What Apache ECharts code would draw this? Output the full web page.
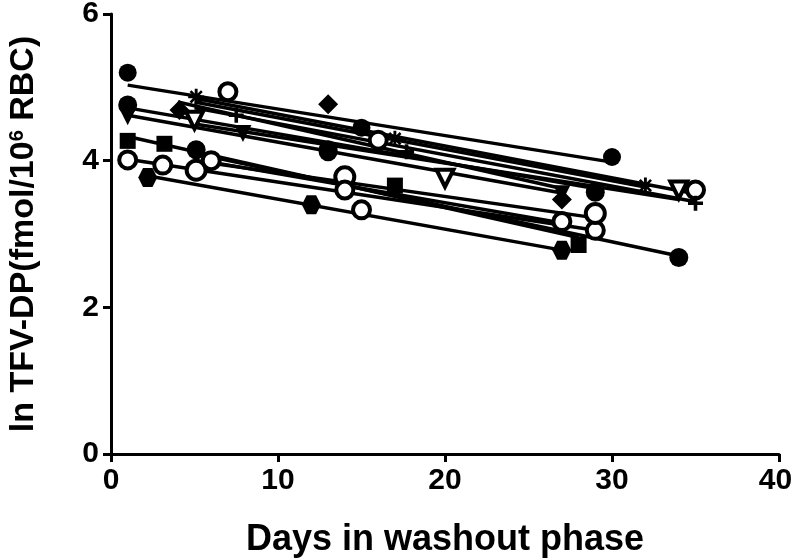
<!DOCTYPE html>
<html>
<head>
<meta charset="utf-8">
<script src="https://cdn.jsdelivr.net/npm/echarts@6/dist/echarts.min.js"></script>
<style>html,body{margin:0;padding:0;background:#fff}#c{width:792px;height:559px}</style>
</head>
<body>
<div id="c"></div>
<script>
// Tick values
const xTicks = [0, 10, 20, 30, 40];
const yTicks = [0, 2, 4, 6];

const subjA = [[1, 5.2], [15, 4.45], [30, 4.05]];
const fitA = [[1, 5.03], [30, 3.98]];
const subjB = [[7, 4.94], [16, 4.28], [35, 3.6]];
const fitB = [[5, 4.85], [35, 3.55]];
const subjC = [[5.1, 4.87], [17, 4.3], [32, 3.66]];
const fitC = [[5, 4.8], [32, 3.64]];
const subjD = [[7.5, 4.62], [17.7, 4.12], [35, 3.42]];
const fitD = [[5, 4.72], [35, 3.44]];
const subjE = [[4.1, 4.69], [13, 4.77], [27, 3.47]];
const fitE = [[4, 4.8], [27, 3.62]];
const subjF = [[1, 4.6], [7.9, 4.37], [27, 3.55]];
const fitF = [[1, 4.62], [27, 3.56]];
const subjG = [[1, 4.76], [13, 4.15], [29, 3.57]];
const fitG = [[1, 4.72], [29, 3.62]];
const subjH = [[5, 4.55], [20, 3.76], [34, 3.6]];
const fitH = [[5, 4.5], [34, 3.47]];
const subjI = [[1, 4.27], [3.2, 4.23], [17, 3.66], [28, 2.85]];
const fitI = [[1, 4.33], [28, 2.95]];
const subjJ = [[1, 4.01], [3.1, 3.94], [15, 3.33], [29, 3.05]];
const fitJ = [[1, 4.02], [29, 3.05]];
const subjK = [[2.2, 3.77], [12, 3.4], [27, 2.78]];
const fitK = [[2, 3.8], [27, 2.78]];
const subjL = [[5.1, 4.15], [13, 4.12], [34, 2.68]];
const fitL = [[5, 4.1], [34, 2.7]];
const subjM = [[5.1, 3.87], [14, 3.78], [29, 3.28]];
const fitM = [[5, 4.0], [29, 3.22]];
const subjN = [[6, 4.0], [14, 3.6], [27, 3.17]];
const fitN = [[6, 3.98], [27, 3.15]];

const HEX = 'path://M25,0 L75,0 L100,43.3 L75,86.6 L25,86.6 L0,43.3 Z';
const PLUS = 'path://M38,0 H62 V38 H100 V62 H62 V100 H38 V62 H0 V38 H38 Z';
const STAR = 'path://M41,0 H59 V100 H41 Z M0,41 H100 V59 H0 Z M20.3,8.9 L91.1,79.7 L79.7,91.1 L8.9,20.3 Z M79.7,8.9 L91.1,20.3 L20.3,91.1 L8.9,79.7 Z';

const groups = [
  {pts: subjA, fit: fitA, sym: 'circle', open: false, size: 18},
  {pts: subjB, fit: fitB, sym: 'circle', open: true, size: 17},
  {pts: subjC, fit: fitC, sym: STAR, open: false, size: 16},
  {pts: subjD, fit: fitD, sym: PLUS, open: false, size: 15},
  {pts: subjE, fit: fitE, sym: 'diamond', open: false, size: 20},
  {pts: subjF, fit: fitF, sym: 'triangle', open: false, size: 17, rot: 180},
  {pts: subjG, fit: fitG, sym: 'circle', open: false, size: 19},
  {pts: subjH, fit: fitH, sym: 'triangle', open: true, size: 17, rot: 180},
  {pts: subjI, fit: fitI, sym: 'rect', open: false, size: 16},
  {pts: subjJ, fit: fitJ, sym: 'circle', open: true, size: 17},
  {pts: subjK, fit: fitK, sym: HEX, open: false, size: 19},
  {pts: subjL, fit: fitL, sym: 'circle', open: false, size: 19},
  {pts: subjM, fit: fitM, sym: 'circle', open: true, size: 19},
  {pts: subjN, fit: fitN, sym: 'circle', open: true, size: 17}
];

const series = [];
groups.forEach(g => {
  series.push({
    type: 'line', data: g.fit, symbol: 'none', silent: true, z: 2,
    lineStyle: {color: '#000', width: 3.5}
  });
});
groups.forEach(g => {
  series.push({
    type: 'scatter', data: g.pts, symbol: g.sym, symbolSize: g.size,
    symbolRotate: g.rot || 0, z: 3,
    itemStyle: g.open ? {color: '#fff', borderColor: '#000', borderWidth: 4, opacity: 1}
                      : {color: '#000', opacity: 1}
  });
});

const FONT = "'Liberation Sans', Arial, sans-serif";
const chart = echarts.init(document.getElementById('c'));
chart.setOption({
  animation: false,
  backgroundColor: '#fff',
  grid: {left: 111, right: 13, top: 14, bottom: 105, containLabel: false, outerBoundsMode: 'none'},
  xAxis: {
    type: 'value', min: xTicks[0], max: xTicks[xTicks.length - 1], interval: 10,
    name: 'Days in washout phase', nameLocation: 'middle', nameGap: 68,
    nameTextStyle: {fontFamily: FONT, fontWeight: 'bold', fontSize: 36, color: '#000'},
    axisLine: {show: true, lineStyle: {color: '#000', width: 3}},
    axisTick: {show: true, length: 8, lineStyle: {color: '#000', width: 3}},
    axisLabel: {
      fontFamily: FONT, fontWeight: 'bold', fontSize: 30, color: '#000', margin: 12,
      formatter: v => v === xTicks[xTicks.length - 1] ? '{m|' + v + '}' : String(v),
      rich: {m: {fontFamily: FONT, fontWeight: 'bold', fontSize: 30, color: '#000', padding: [0, 7, 0, 0]}}
    },
    splitLine: {show: false}
  },
  yAxis: {
    type: 'value', min: yTicks[0], max: yTicks[yTicks.length - 1], interval: 2,
    name: '{a|ln TFV-DP(fmol/10}{s|6}{a| RBC)}', nameLocation: 'middle', nameGap: 70,
    nameTextStyle: {
      fontFamily: FONT, fontWeight: 'bold', fontSize: 34, color: '#000',
      rich: {
        a: {fontFamily: FONT, fontWeight: 'bold', fontSize: 34, color: '#000'},
        s: {fontFamily: FONT, fontWeight: 'bold', fontSize: 20, color: '#000', verticalAlign: 'top', padding: [0, 0, 14, 0]}
      }
    },
    axisLine: {show: true, lineStyle: {color: '#000', width: 3}},
    axisTick: {show: true, length: 8, lineStyle: {color: '#000', width: 3}},
    axisLabel: {fontFamily: FONT, fontWeight: 'bold', fontSize: 30, color: '#000', margin: 12},
    splitLine: {show: false}
  },
  series: series
});
</script>
</body>
</html>
